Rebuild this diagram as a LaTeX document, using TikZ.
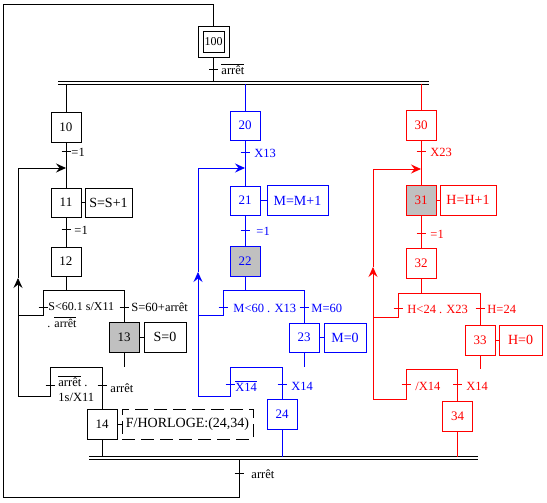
\documentclass[tikz,border=0pt]{standalone}
\usepackage{fontspec}
\setmainfont{Liberation Serif}
\usetikzlibrary{arrows.meta,calc}
\definecolor{gblue}{RGB}{0,0,255}
\definecolor{gred}{RGB}{255,0,0}
\definecolor{ggray}{RGB}{192,192,192}
\newcommand\trtick[1]{\draw ($(#1)+(-4.5,0)$) -- ($(#1)+(4.5,0)$);}
\newcommand\ovl[1]{$\overline{\mbox{#1}}$}
\begin{document}
\begin{tikzpicture}[x=1pt,y=-1pt,line width=0.9pt,
  stepbox/.style={draw,minimum width=30,minimum height=30,inner sep=0,font=\fontsize{13}{15}\selectfont},
  active/.style={stepbox,fill=ggray},
  actbox/.style={draw,minimum height=30,inner sep=0,font=\fontsize{14}{16}\selectfont},
  lbl/.style={anchor=west,inner sep=0,font=\fontsize{12.5}{14}\selectfont},
  arr/.style={-{Stealth[length=10,width=9,inset=3.5]}},
]
\useasboundingbox (0,0) rectangle (547,503);

% ---------- initial step and frame ----------
\node[stepbox,minimum size=31] (s100) at (213.5,41.5) {};
\node[draw,minimum size=21,inner sep=0,font=\fontsize{12}{14}\selectfont] (s100i) at (s100) {100};
\coordinate (f1) at (213.5,4.5);
\coordinate (f2) at (3.5,4.5);
\coordinate (f3) at (3.5,497.5);
\coordinate (f4) at (239,497.5);
\coordinate (f5) at (239,459);
\coordinate (t100) at (213.5,69);
\coordinate (j100) at (213.5,81.5);
\coordinate (tb) at (239,473);
\draw (f5) -- (f4) -- (f3) -- (f2) -- (f1) -- (s100);
\draw (s100) -- (j100);
\trtick{t100}
\node[lbl] (l100) at (221,69) {\ovl{arrêt}};
\trtick{tb}
\node[lbl] (lb) at (251,474) {arrêt};

% top and bottom double bars
\coordinate (tbar1) at (58,81.5); \coordinate (tbar2) at (429,81.5);
\coordinate (tbar3) at (58,84);   \coordinate (tbar4) at (429,84);
\draw (tbar1) -- (tbar2); \draw (tbar3) -- (tbar4);
\coordinate (bbar1) at (89,456.5); \coordinate (bbar2) at (478,456.5);
\coordinate (bbar3) at (89,459);   \coordinate (bbar4) at (478,459);
\draw (bbar1) -- (bbar2); \draw (bbar3) -- (bbar4);

% ---------- black sequence ----------
\node[stepbox] (s10) at (66,127) {10};
\node[stepbox,minimum height=29] (s11) at (66,202.5) {11};
\node[actbox,minimum width=47,minimum height=29] (a11) at (108.5,202.5) {S=S+1};
\node[stepbox,minimum height=29] (s12) at (66,261.5) {12};
\node[active] (s13) at (124,337) {13};
\node[actbox,minimum width=42] (a13) at (165,337) {S=0};
\node[stepbox] (s14) at (102,424) {14};
\node[actbox,dash pattern=on 13pt off 6pt,minimum width=131] (a14) at (187.5,424) {F/HORLOGE:(24,34)};
\coordinate (b1t) at (66,84);
\coordinate (t10) at (66,151);
\coordinate (m11) at (66,168);
\coordinate (t11) at (66,229);
\coordinate (d12) at (66,290);
\coordinate (d12l) at (43,290); \coordinate (d12r) at (124,290);
\coordinate (t12l) at (43,307); \coordinate (t12r) at (124,307);
\coordinate (e12l) at (43,315); \coordinate (L1e) at (18,315);
\coordinate (d13) at (124,367);
\coordinate (d13l) at (50,367); \coordinate (d13r) at (102,367);
\coordinate (t13l) at (50,385); \coordinate (t13r) at (102,385);
\coordinate (e13l) at (50,396); \coordinate (L1b) at (18,396);
\coordinate (L1t) at (18,168); \coordinate (L1m) at (18,278);
\coordinate (b2a) at (102,456.5);
\draw (b1t) -- (s10);
\draw (s10) -- (s11);
\draw (s11) -- (a11);
\draw (s11) -- (s12);
\draw (s12) -- (d12); \draw (d12l) -- (d12r);
\draw (d12l) -- (e12l) -- (L1e);
\draw (d12r) -- (s13);
\draw (s13) -- (a13);
\draw (s13) -- (d13); \draw (d13l) -- (d13r);
\draw (d13l) -- (e13l) -- (L1b);
\draw (d13r) -- (s14);
\draw (s14) -- (a14);
\draw (s14) -- (b2a);
\draw[arr] (L1b) -- (L1m);
\draw[arr] (L1m) -- (L1t) -- (m11);
\trtick{t10} \trtick{t11} \trtick{t12l} \trtick{t12r} \trtick{t13l} \trtick{t13r}
\node[lbl] (l10) at (71,152) {=1};
\node[lbl] (l11) at (74,230) {=1};
\node[lbl,font=\fontsize{12}{14}\selectfont] (l12a) at (48,307) {S<60.1 s/X11};
\node[lbl,font=\fontsize{12}{14}\selectfont] (l12b) at (47,322) {. \ovl{arrêt}};
\node[lbl] (l12r) at (131,307) {S=60+arrêt};
\node[lbl] (l13a) at (58,381) {\ovl{arrêt} .};
\node[lbl] (l13b) at (58,397) {1s/X11};
\node[lbl] (l13r) at (110,388) {arrêt};

% ---------- blue sequence ----------
\begin{scope}[color=gblue]
\node[stepbox,minimum height=29] (s20) at (245,125.5) {20};
\node[stepbox,minimum height=29] (s21) at (245,200.5) {21};
\node[actbox,minimum width=61] (a21) at (297.5,200.5) {M=M+1};
\node[active] (s22) at (245,261) {22};
\node[stepbox,minimum height=29] (s23) at (304,337.5) {23};
\node[actbox,minimum width=42,minimum height=29] (a23) at (345,337.5) {M=0};
\node[stepbox] (s24) at (282,414) {24};
\coordinate (b2t) at (245,84);
\coordinate (t20) at (245,152);
\coordinate (m21) at (245,168);
\coordinate (t21) at (245,230);
\coordinate (d22) at (245,290);
\coordinate (d22l) at (223,290); \coordinate (d22r) at (304,290);
\coordinate (t22l) at (223,307); \coordinate (t22r) at (304,307);
\coordinate (e22l) at (223,315); \coordinate (L2e) at (198,315);
\coordinate (d23) at (304,367);
\coordinate (d23l) at (230,367); \coordinate (d23r) at (282,367);
\coordinate (t23l) at (230,384); \coordinate (t23r) at (282,384);
\coordinate (e23l) at (230,396); \coordinate (L2b) at (198,396);
\coordinate (L2t) at (198,168); \coordinate (L2m) at (198,272);
\coordinate (b2b) at (282,456.5);
\draw (b2t) -- (s20);
\draw (s20) -- (s21);
\draw (s21) -- (a21);
\draw (s21) -- (s22);
\draw (s22) -- (d22); \draw (d22l) -- (d22r);
\draw (d22l) -- (e22l) -- (L2e);
\draw (d22r) -- (s23);
\draw (s23) -- (a23);
\draw (s23) -- (d23); \draw (d23l) -- (d23r);
\draw (d23l) -- (e23l) -- (L2b);
\draw (d23r) -- (s24);
\draw (s24) -- (b2b);
\draw[arr] (L2b) -- (L2m);
\draw[arr] (L2m) -- (L2t) -- (m21);
\trtick{t20} \trtick{t21} \trtick{t22l} \trtick{t22r} \trtick{t23l} \trtick{t23r}
\node[lbl] (l20) at (254,153) {X13};
\node[lbl] (l21) at (256,231) {=1};
\node[lbl] (l22l) at (233,308) {M<60 . X13};
\node[lbl] (l22r) at (311,308) {M=60};
\node[lbl] (l23l) at (235,386) {\ovl{X14}};
\node[lbl] (l23r) at (291,386) {X14};
\end{scope}

% ---------- red sequence ----------
\begin{scope}[color=gred]
\node[stepbox] (s30) at (421,125) {30};
\node[active] (s31) at (421,200) {31};
\node[actbox,minimum width=56] (a31) at (468,200) {H=H+1};
\node[stepbox] (s32) at (421,263) {32};
\node[stepbox] (s33) at (480,340) {33};
\node[actbox,minimum width=43] (a33) at (520.5,340) {H=0};
\node[stepbox] (s34) at (457.5,416) {34};
\coordinate (b3t) at (421,84);
\coordinate (t30) at (421,151);
\coordinate (m31) at (421,169);
\coordinate (t31) at (421,233);
\coordinate (d32) at (421,293);
\coordinate (d32l) at (398,293); \coordinate (d32r) at (480,293);
\coordinate (t32l) at (398,308); \coordinate (t32r) at (480,308);
\coordinate (e32l) at (398,317); \coordinate (L3e) at (373,317);
\coordinate (d33) at (480,369);
\coordinate (d33l) at (406,369); \coordinate (d33r) at (457.5,369);
\coordinate (t33l) at (406,384); \coordinate (t33r) at (457.5,384);
\coordinate (e33l) at (406,399); \coordinate (L3b) at (373,399);
\coordinate (L3t) at (373,169); \coordinate (L3m) at (373,267);
\coordinate (b2c) at (457.5,456.5);
\draw (b3t) -- (s30);
\draw (s30) -- (s31);
\draw (s31) -- (a31);
\draw (s31) -- (s32);
\draw (s32) -- (d32); \draw (d32l) -- (d32r);
\draw (d32l) -- (e32l) -- (L3e);
\draw (d32r) -- (s33);
\draw (s33) -- (a33);
\draw (s33) -- (d33); \draw (d33l) -- (d33r);
\draw (d33l) -- (e33l) -- (L3b);
\draw (d33r) -- (s34);
\draw (s34) -- (b2c);
\draw[arr] (L3b) -- (L3m);
\draw[arr] (L3m) -- (L3t) -- (m31);
\trtick{t30} \trtick{t31} \trtick{t32l} \trtick{t32r} \trtick{t33l} \trtick{t33r}
\node[lbl] (l30) at (430,152) {X23};
\node[lbl] (l31) at (430,234) {=1};
\node[lbl] (l32l) at (407,309) {H<24 . X23};
\node[lbl] (l32r) at (487,309) {H=24};
\node[lbl] (l33l) at (415,386) {/X14};
\node[lbl] (l33r) at (466,386) {X14};
\end{scope}
\end{tikzpicture}
\end{document}
